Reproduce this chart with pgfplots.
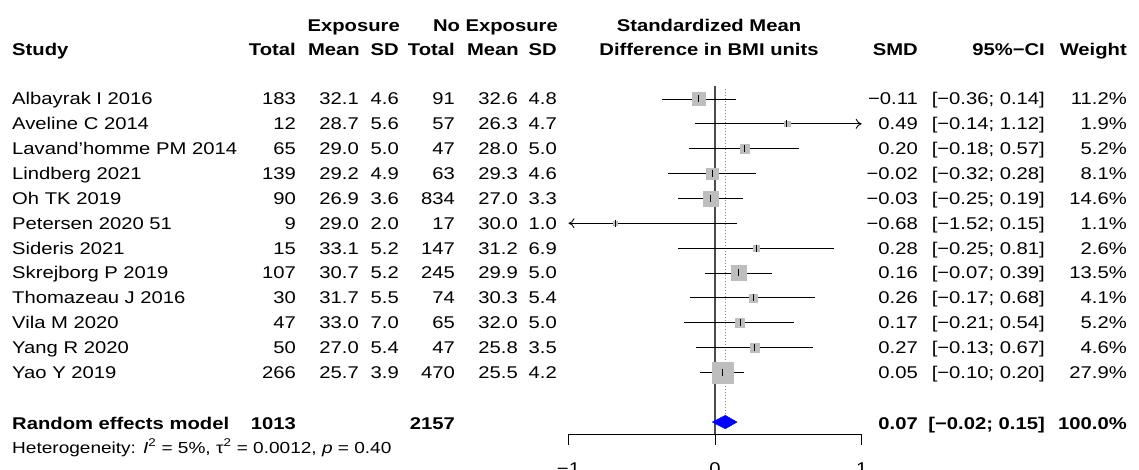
\documentclass[border=0pt]{standalone}
\usepackage{pgfplots}
\pgfplotsset{compat=1.18}
\usepackage{pgfplotstable}
\usetikzlibrary{arrows.meta}
\usepackage{fontspec}
\setmainfont{Liberation Sans}[FakeStretch=1.19]
\definecolor{sqgray}{HTML}{BEBEBE}
\newcommand\Lt[3]{\node[anchor=base west,inner sep=0pt] at ({(#1)*1pt},{(469-(#2))*1pt}) {#3};}
\newcommand\Rt[3]{\node[anchor=base east,inner sep=0pt] at ({(#1)*1pt},{(469-(#2))*1pt}) {#3};}
\newcommand\Ct[3]{\node[anchor=base,inner sep=0pt] at ({(#1)*1pt},{(469-(#2))*1pt}) {#3};}
\newcommand\rowL[8]{\Lt{12}{#1+6}{#2}\Rt{296}{#1+6}{#3}\Rt{359}{#1+6}{#4}\Rt{399}{#1+6}{#5}\Rt{455}{#1+6}{#6}\Rt{518}{#1+6}{#7}\Rt{557}{#1+6}{#8}}
\newcommand\rowR[4]{\Rt{918}{#1+6}{#2}\Rt{1045}{#1+6}{#3}\Rt{1127}{#1+6}{#4}}
% study estimates: row, SMD, lower, upper, weight
\pgfplotstableread{
y smd lo hi w
-1 -0.11 -0.36 0.14 11.2
-2 0.49 -0.14 1.12 1.9
-3 0.20 -0.18 0.57 5.2
-4 -0.02 -0.32 0.28 8.1
-5 -0.03 -0.25 0.19 14.6
-6 -0.68 -1.52 0.15 1.1
-7 0.28 -0.25 0.81 2.6
-8 0.16 -0.07 0.39 13.5
-9 0.26 -0.17 0.68 4.1
-10 0.17 -0.21 0.54 5.2
-11 0.27 -0.13 0.67 4.6
-12 0.05 -0.10 0.20 27.9
}\forest
\begin{document}
\begin{tikzpicture}[every node/.append style={font=\fontsize{17}{20}\selectfont}]
\begin{axis}[at={(568.5pt,35pt)}, anchor=south west, width=293.2pt, height=348pt, scale only axis,
  xmin=-1, xmax=1, ymin=-14.48, ymax=-0.477,
  axis x line=bottom, axis y line=none,
  axis line style={-, line width=1pt, black},
  xtick={-1,0,1}, xticklabels={−1,0,1},
  tick align=outside, major tick length=11pt,
  tick style={line width=1pt, black},
  xticklabel style={anchor=north, yshift=-14pt},
  clip=false]
\addplot[black!70, line width=1.4pt] coordinates {(0,-0.477) (0,-14.48)};
\addplot[gray, dotted, line width=1pt] coordinates {(0.07,-0.6) (0.07,-13.7)};
\addplot[scatter, only marks, mark=square*,
  scatter/use mapped color={draw=sqgray, fill=sqgray},
  visualization depends on={2*sqrt(\thisrow{w}) \as \msz},
  scatter/@pre marker code/.append style={/tikz/mark size=\msz}]
  table[x=smd, y=y] \forest;
\addplot[black, line width=0.9pt] coordinates {(-0.36,-1) (0.14,-1)};
\addplot[black, line width=0.9pt, -{To[length=6pt,width=10pt]}] coordinates {(-0.14,-2) (1,-2)};
\addplot[black, line width=0.9pt] coordinates {(-0.18,-3) (0.57,-3)};
\addplot[black, line width=0.9pt] coordinates {(-0.32,-4) (0.28,-4)};
\addplot[black, line width=0.9pt] coordinates {(-0.25,-5) (0.19,-5)};
\addplot[black, line width=0.9pt, -{To[length=6pt,width=10pt]}] coordinates {(0.15,-6) (-1,-6)};
\addplot[black, line width=0.9pt] coordinates {(-0.25,-7) (0.81,-7)};
\addplot[black, line width=0.9pt] coordinates {(-0.07,-8) (0.39,-8)};
\addplot[black, line width=0.9pt] coordinates {(-0.17,-9) (0.68,-9)};
\addplot[black, line width=0.9pt] coordinates {(-0.21,-10) (0.54,-10)};
\addplot[black, line width=0.9pt] coordinates {(-0.13,-11) (0.67,-11)};
\addplot[black, line width=0.9pt] coordinates {(-0.10,-12) (0.20,-12)};
\addplot[only marks, mark=|, mark size=3.5pt, black, line width=1pt] table[x=smd, y=y] \forest;
\addplot[fill=blue, draw=blue] coordinates {(-0.02,-14) (0.07,-13.73) (0.15,-14) (0.07,-14.27)} --cycle;
\end{axis}
% headers
\Rt{400}{32}{\textbf{Exposure}}
\Rt{558}{32}{\textbf{No Exposure}}
\Ct{709}{32}{\textbf{Standardized Mean}}
\Lt{12}{56}{\textbf{Study}}
\Rt{296}{56}{\textbf{Total}}
\Rt{360}{56}{\textbf{Mean}}
\Rt{399}{56}{\textbf{SD}}
\Rt{455}{56}{\textbf{Total}}
\Rt{519}{56}{\textbf{Mean}}
\Rt{557}{56}{\textbf{SD}}
\Ct{709}{56}{\textbf{Difference in BMI units}}
\Rt{918}{56}{\textbf{SMD}}
\Rt{1045}{56}{\textbf{95\%−CI}}
\Rt{1127}{56}{\textbf{Weight}}
% rows
\rowL{99}{Albayrak I 2016}{183}{32.1}{4.6}{91}{32.6}{4.8}
\rowR{99}{−0.11}{[−0.36; 0.14]}{11.2\%}
\rowL{123.85}{Aveline C 2014}{12}{28.7}{5.6}{57}{26.3}{4.7}
\rowR{123.85}{0.49}{[−0.14; 1.12]}{1.9\%}
\rowL{148.7}{Lavand’homme PM 2014}{65}{29.0}{5.0}{47}{28.0}{5.0}
\rowR{148.7}{0.20}{[−0.18; 0.57]}{5.2\%}
\rowL{173.55}{Lindberg 2021}{139}{29.2}{4.9}{63}{29.3}{4.6}
\rowR{173.55}{−0.02}{[−0.32; 0.28]}{8.1\%}
\rowL{198.4}{Oh TK 2019}{90}{26.9}{3.6}{834}{27.0}{3.3}
\rowR{198.4}{−0.03}{[−0.25; 0.19]}{14.6\%}
\rowL{223.25}{Petersen 2020 51}{9}{29.0}{2.0}{17}{30.0}{1.0}
\rowR{223.25}{−0.68}{[−1.52; 0.15]}{1.1\%}
\rowL{248.1}{Sideris 2021}{15}{33.1}{5.2}{147}{31.2}{6.9}
\rowR{248.1}{0.28}{[−0.25; 0.81]}{2.6\%}
\rowL{272.95}{Skrejborg P 2019}{107}{30.7}{5.2}{245}{29.9}{5.0}
\rowR{272.95}{0.16}{[−0.07; 0.39]}{13.5\%}
\rowL{297.8}{Thomazeau J 2016}{30}{31.7}{5.5}{74}{30.3}{5.4}
\rowR{297.8}{0.26}{[−0.17; 0.68]}{4.1\%}
\rowL{322.65}{Vila M 2020}{47}{33.0}{7.0}{65}{32.0}{5.0}
\rowR{322.65}{0.17}{[−0.21; 0.54]}{5.2\%}
\rowL{347.5}{Yang R 2020}{50}{27.0}{5.4}{47}{25.8}{3.5}
\rowR{347.5}{0.27}{[−0.13; 0.67]}{4.6\%}
\rowL{372.35}{Yao Y 2019}{266}{25.7}{3.9}{470}{25.5}{4.2}
\rowR{372.35}{0.05}{[−0.10; 0.20]}{27.9\%}
% pooled
\Lt{12}{429}{\textbf{Random effects model}}
\Rt{296}{429}{\textbf{1013}}
\Rt{455}{429}{\textbf{2157}}
\rowR{423}{\textbf{0.07}}{\textbf{[−0.02; 0.15]}}{\textbf{100.0\%}}
\node[anchor=base west,inner sep=0pt,font=\fontsize{16}{18}\selectfont] at (12pt,16pt) {Heterogeneity: \textit{I}\textsuperscript{2} = 5\%, τ\textsuperscript{2} = 0.0012, \textit{p} = 0.40};
\pgfresetboundingbox
\useasboundingbox (0,0) rectangle (1139pt,469pt);
\end{tikzpicture}
\end{document}
